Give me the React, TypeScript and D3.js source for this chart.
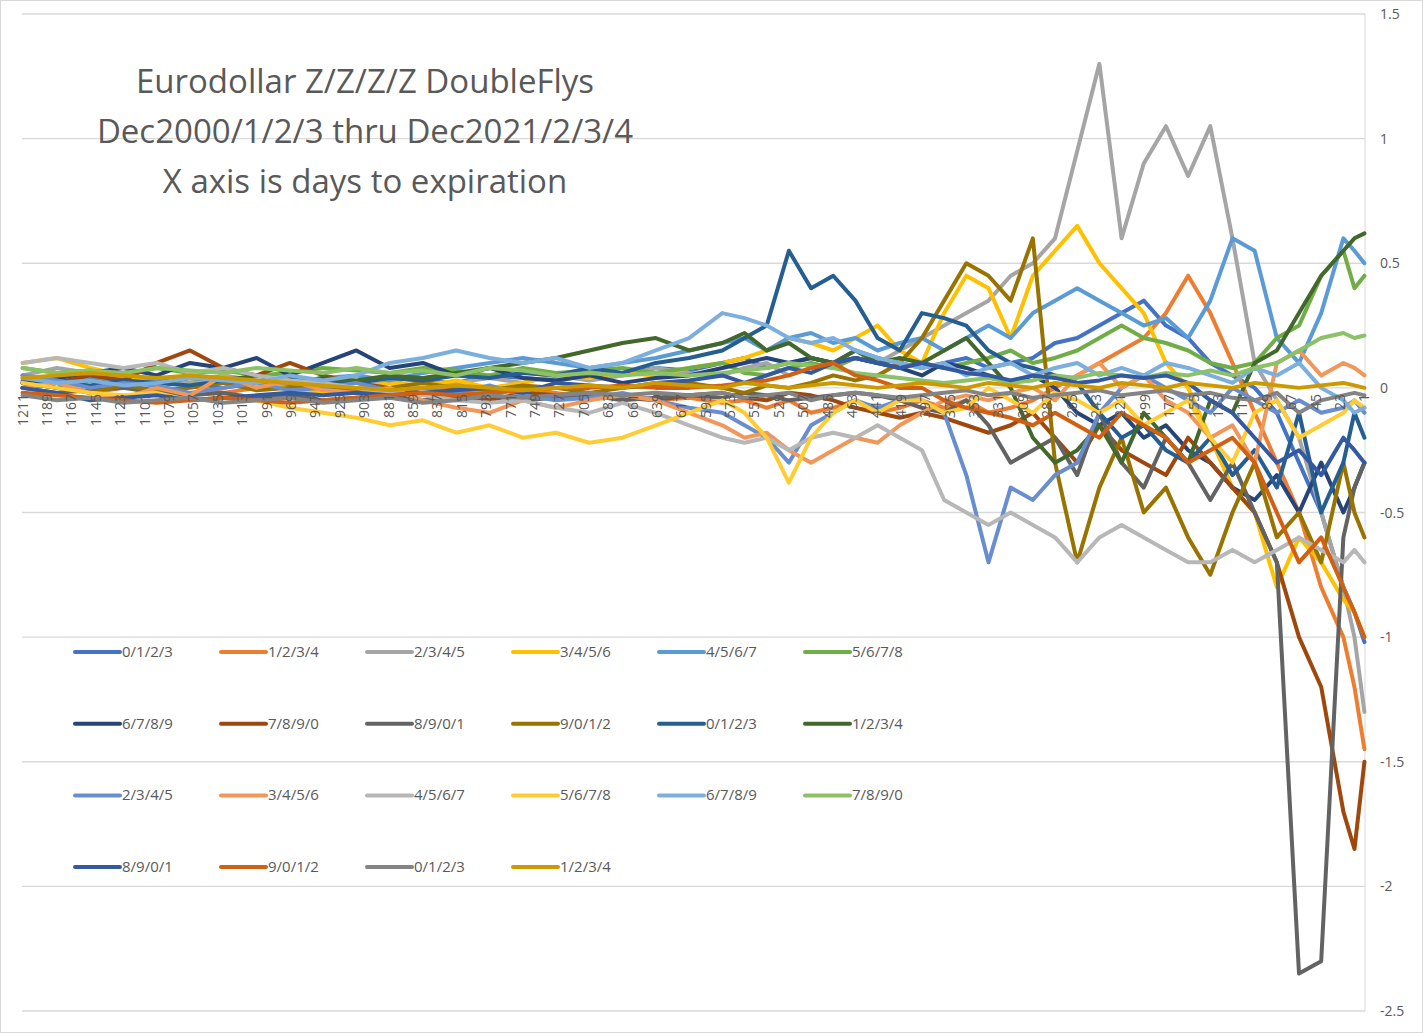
import React, { useEffect, useRef } from 'react';
import * as d3 from 'd3';

const DAYS = [
  1211, 1180, 1150, 1120, 1090, 1060, 1030, 1000, 970, 940,
  910, 880, 850, 820, 790, 760, 730, 700, 670, 640,
  610, 580, 560, 540, 520, 500, 480, 460, 440, 420,
  400, 380, 360, 340, 320, 300, 280, 260, 240, 220,
  200, 180, 160, 140, 120, 100, 80, 60, 40, 20,
  10, 1,
];

const NAMES = [
  '0/1/2/3', '1/2/3/4', '2/3/4/5', '3/4/5/6', '4/5/6/7', '5/6/7/8',
  '6/7/8/9', '7/8/9/0', '8/9/0/1', '9/0/1/2', '0/1/2/3', '1/2/3/4',
  '2/3/4/5', '3/4/5/6', '4/5/6/7', '5/6/7/8', '6/7/8/9', '7/8/9/0',
  '8/9/0/1', '9/0/1/2', '0/1/2/3', '1/2/3/4',
];

const COLORS = [
  '#4472C4', '#ED7D31', '#A5A5A5', '#FFC000', '#5B9BD5', '#70AD47',
  '#264478', '#9E480E', '#636363', '#997300', '#255E91', '#43682B',
  '#698ED0', '#F1975A', '#B7B7B7', '#FFCD33', '#7CAFDD', '#8CC168',
  '#335AA1', '#D26012', '#848484', '#CC9A00',
];

const s01 = [.03,.02,.04,.01,.03,.02,0,.02,.01,.03, .02,.04,.03,.02,.05,.04,.03,.05,.06,.08, .07,.1,.12,.08,.1,.12,.1,.15,.12,.1, .08,.1,.12,.08,.1,.12,.18,.2,.25,.3, .35,.25,.2,.1,.05,0,-.1,-.3,-.5,-.8, -.9,-1.02];
const s02 = [0,.02,-.02,0,.03,.01,-.02,0,.02,0, -.02,0,.02,-.01,-.03,0,-.02,-.04,-.03,-.05, -.04,-.06,-.05,-.08,-.05,-.1,-.08,-.05,-.1,-.08, -.05,-.08,-.05,-.1,-.08,-.05,0,.05,.1,.15, .2,.3,.45,.3,.1,-.1,-.3,-.5,-.8,-1.0, -1.2,-1.45];
const s03 = [.05,.08,.06,.04,.03,.02,.05,.03,.02,.04, .02,.03,0,.02,.04,.02,.05,.03,.05,.08, .06,.05,.08,.1,.05,.08,.1,.12,.1,.15, .2,.25,.3,.35,.45,.5,.6,.95,1.3,.6, .9,1.05,.85,1.05,.6,.1,-.05,-.2,-.5,-.8, -1.0,-1.3];
const s04 = [.1,.12,.08,.05,.03,.04,.02,.01,0,-.02, 0,.02,.01,.03,0,.02,.05,.04,.06,.05, .08,.1,.12,.15,.2,.18,.15,.2,.25,.15, .1,.3,.45,.4,.2,.45,.55,.65,.5,.4, .3,.1,0,-.2,-.4,-.5,-.8,-.6,-.7,-.85, -.9,-1.0];
const s05 = [.05,.03,.04,.02,.03,.05,.04,.03,.02,.04, .05,.03,.06,.08,.1,.12,.1,.08,.1,.12, .15,.18,.2,.15,.2,.22,.18,.2,.15,.18, .2,.15,.2,.25,.2,.3,.35,.4,.35,.3, .25,.28,.2,.35,.6,.55,.2,.1,.3,.6, .55,.5];
const s06 = [.08,.06,.07,.05,.08,.06,.07,.05,.06,.08, .07,.06,.08,.07,.05,.08,.06,.07,.08,.06, .08,.1,.06,.05,.08,.1,.08,.12,.1,.08, .1,.08,.1,.12,.15,.1,.12,.15,.2,.25, .2,.18,.15,.1,.08,.1,.2,.25,.45,.55, .4,.45];
const s07 = [.02,.04,.06,.08,.05,.1,.08,.12,.05,.1, .15,.08,.1,.05,.08,.04,.03,.05,.02,.04, .05,.08,.1,.12,.1,.12,.1,.12,.1,.08, .05,.1,.08,.05,.02,.05,0,-.1,-.15,-.1, -.2,-.15,-.25,-.3,-.4,-.45,-.35,-.5,-.3,-.5, -.4,-.3];
const s08 = [0,.02,.05,.03,.1,.15,.08,.05,.1,.05, .02,0,-.02,-.03,-.05,-.02,-.03,-.02,-.04,-.05, -.03,-.02,-.04,-.05,-.02,-.03,-.05,-.08,-.1,-.12, -.1,-.12,-.15,-.18,-.15,-.1,-.2,-.3,-.15,-.25, -.3,-.35,-.2,-.3,-.4,-.5,-.7,-1.0,-1.2,-1.7, -1.85,-1.5];
const s09 = [0,-.02,-.01,0,-.02,-.03,-.02,-.04,-.03,-.05, -.04,-.03,-.05,-.04,-.03,-.05,-.04,-.03,-.05,-.04, -.03,-.04,-.02,-.03,-.05,-.04,-.03,-.02,-.03,-.05, -.08,-.1,-.05,-.15,-.3,-.25,-.2,-.35,-.1,-.3, -.4,-.2,-.3,-.45,-.3,-.5,-.7,-2.35,-2.3,-.6, -.4,-.3];
const s10 = [.02,0,-.02,.01,-.01,0,.02,-.01,0,.01, -.01,0,.02,0,-.01,.01,0,-.02,0,.01, .02,0,-.02,.01,0,.02,.05,.03,.05,.1, .2,.35,.5,.45,.35,.6,-.3,-.7,-.4,-.2, -.5,-.4,-.6,-.75,-.5,-.3,-.6,-.5,-.7,-.3, -.5,-.6];
const s11 = [0,.02,.01,.03,.02,.01,.03,.02,.04,.03, .02,.04,.03,.05,.04,.06,.05,.08,.06,.1, .12,.15,.2,.25,.55,.4,.45,.35,.2,.15, .3,.28,.25,.15,.1,.08,.05,.02,-.1,-.2, -.15,-.25,-.3,-.2,-.35,-.25,-.4,-.1,-.5,-.3, -.1,-.2];
const s12 = [.02,0,.03,.01,.02,.04,.03,.05,.02,.04, .03,.05,.04,.06,.08,.1,.12,.15,.18,.2, .15,.18,.22,.15,.18,.12,.1,.15,.1,.12, .1,.15,.2,.1,0,-.2,-.3,-.25,-.15,-.3, -.1,-.2,-.3,-.05,-.1,.1,.15,.3,.45,.55, .6,.62];
const s13 = [.05,.03,0,.02,.01,-.02,0,.02,-.01,0, .02,-.01,0,-.02,.01,-.03,-.05,-.04,-.02,-.05, -.08,-.1,-.15,-.2,-.3,-.15,-.1,-.05,-.08,-.05, -.05,-.1,-.35,-.7,-.4,-.45,-.35,-.3,-.1,0, .05,0,-.05,-.1,0,-.05,-.1,-.05,-.1,-.08, -.05,-.1];
const s14 = [0,.02,-.02,-.04,0,-.03,.05,0,.03,-.01, -.02,0,-.05,-.08,-.1,-.05,-.08,-.05,-.03,-.05, -.1,-.15,-.2,-.18,-.25,-.3,-.25,-.2,-.22,-.15, -.1,-.05,-.03,-.05,-.02,0,-.05,.05,.1,0, .05,-.05,-.1,-.2,-.15,-.3,.1,.15,.05,.1, .08,.05];
const s15 = [.1,.12,.1,.08,.1,.06,.08,.05,.03,.02, 0,-.02,-.03,-.05,-.06,-.05,-.08,-.1,-.06,-.1, -.15,-.2,-.22,-.2,-.25,-.2,-.18,-.2,-.15,-.2, -.25,-.45,-.5,-.55,-.5,-.55,-.6,-.7,-.6,-.55, -.6,-.65,-.7,-.7,-.65,-.7,-.65,-.6,-.65,-.7, -.65,-.7];
const s16 = [.02,0,-.02,-.03,-.02,-.05,-.04,-.05,-.08,-.1, -.12,-.15,-.13,-.18,-.15,-.2,-.18,-.22,-.2,-.15, -.1,-.05,-.1,-.2,-.38,-.2,-.1,-.05,-.1,-.05, -.05,-.1,-.08,0,-.05,-.1,-.02,-.05,-.1,-.05, -.15,-.1,-.05,-.2,-.3,-.1,-.05,-.2,-.15,-.1, -.05,-.08];
const s17 = [.04,.02,.03,.01,.02,.04,.03,.02,.05,.03, .05,.1,.12,.15,.12,.1,.12,.08,.1,.15, .2,.3,.28,.25,.2,.18,.2,.15,.12,.1, .08,.1,.05,.08,.1,.05,.08,.1,.05,.08, .05,.1,.08,.05,.02,.08,.05,.1,0,-.05, -.1,-.08];
const s18 = [.08,.06,.07,.06,.08,.07,.06,.08,.07,.06, .08,.06,.07,.05,.08,.07,.05,.06,.05,.06, .05,.06,.07,.08,.1,.09,.08,.06,.05,.04, .03,.02,.03,.04,.02,.03,.05,.04,.06,.05, .04,.06,.05,.07,.05,.08,.1,.15,.2,.22, .2,.21];
const s19 = [0,-.02,-.05,-.04,-.03,-.05,-.04,-.03,-.02,-.03, -.02,-.03,-.02,-.01,0,-.02,.02,.01,0,.02, .03,.05,.02,.05,.08,.06,.1,.12,.1,.08, .1,.08,.06,.05,.03,.05,.04,.02,.03,.05, .04,.05,.02,-.05,-.1,-.2,-.3,-.25,-.35,-.2, -.25,-.3];
const s20 = [-.02,-.03,-.04,-.05,-.06,-.05,-.04,-.05,-.06,-.05, -.04,-.03,-.02,-.03,-.02,-.01,0,0,.01,0, 0,.01,.02,.03,.05,.08,.1,.05,.03,0, 0,-.05,-.08,-.1,-.12,-.15,-.1,-.15,-.2,-.1, -.15,-.2,-.3,-.25,-.2,-.3,-.5,-.7,-.6,-.8, -.9,-1.0];
const s21 = [-.03,-.05,-.04,-.06,-.05,-.04,-.06,-.05,-.04,-.06, -.05,-.04,-.06,-.05,-.03,-.04,-.03,-.02,-.03,-.02, -.03,-.02,-.04,-.03,-.02,-.05,-.03,-.02,-.03,-.04, -.03,-.02,-.01,-.03,-.02,-.04,-.03,-.02,-.01,-.03, -.02,-.01,-.03,-.02,-.04,-.05,-.02,-.1,-.05,-.03, -.02,-.03];
const s22 = [.04,.05,.06,.05,.04,.05,.04,.03,.02,.01, 0,-.01,0,.01,0,-.01,0,.01,0,.02, .01,0,.02,.01,0,.01,.02,.01,0,.01, .02,.01,0,.02,.01,0,.02,.01,0,.02, .01,0,.02,.01,0,.02,.01,0,.01,.02, .01,0];

const SERIES = [s01, s02, s03, s04, s05, s06, s07, s08, s09, s10, s11, s12, s13, s14, s15, s16, s17, s18, s19, s20, s21, s22];
const Y_TICKS = [1.5, 1, 0.5, 0, -0.5, -1, -1.5, -2, -2.5];
const TITLE = ['Eurodollar Z/Z/Z/Z DoubleFlys', 'Dec2000/1/2/3 thru Dec2021/2/3/4', 'X axis is days to expiration'];

const W = 1423, H = 1033;
const FONT = "'Open Sans', 'Noto Sans', sans-serif";

const App: React.FC = () => {
  const ref = useRef<SVGSVGElement>(null);

  useEffect(() => {
    if (!ref.current) return;
    const svg = d3.select(ref.current);
    svg.selectAll('*').remove();

    const x = d3.scaleLinear().domain([1211.5, 0.5]).range([22, 1365]);
    const y = d3.scaleLinear().domain([-2.5, 1.5]).range([1011, 14]);

    svg.append('rect').attr('x', 0.5).attr('y', 0.5).attr('width', W - 1).attr('height', H - 1)
      .attr('fill', '#fff').attr('stroke', '#d9d9d9');

    // gridlines + right axis
    svg.append('g').selectAll('line').data(Y_TICKS).enter().append('line')
      .attr('x1', 22).attr('x2', 1365).attr('y1', d => y(d)).attr('y2', d => y(d))
      .attr('stroke', '#d9d9d9').attr('stroke-width', 1.3);
    svg.append('line').attr('x1', 1365).attr('x2', 1365).attr('y1', y(1.5)).attr('y2', y(-2.5)).attr('stroke', '#d9d9d9');
    svg.append('g').selectAll('text').data(Y_TICKS).enter().append('text')
      .attr('x', 1380).attr('y', d => y(d) + 5).text(d => String(d))
      .attr('font-family', FONT).attr('font-size', 14).attr('fill', '#595959');

    // title
    svg.append('g').selectAll('text').data(TITLE).enter().append('text')
      .attr('x', 365).attr('y', (_, i) => 93 + i * 50).attr('text-anchor', 'middle')
      .attr('font-family', FONT).attr('font-size', 33).attr('fill', '#595959').text(d => d);

    const line = d3.line<number>().x((_, i) => x(DAYS[i])).y(d => y(d)).curve(d3.curveLinear);
    svg.append('g').selectAll('path').data(SERIES).enter().append('path')
      .attr('d', d => line(d)).attr('fill', 'none')
      .attr('stroke', (_, i) => COLORS[i]).attr('stroke-width', 4)
      .attr('stroke-linejoin', 'round').attr('stroke-linecap', 'round');

    // category labels along the zero line
    const xTicks = d3.range(1211, 0, -22);
    svg.append('g').selectAll('text').data(xTicks).enter().append('text')
      .attr('transform', d => `translate(${x(d) + 5},${y(0) + 6}) rotate(-90)`)
      .attr('text-anchor', 'end').text(d => String(d))
      .attr('font-family', FONT).attr('font-size', 14).attr('fill', '#595959');

    // legend
    const lg = svg.append('g').selectAll('g').data(NAMES).enter().append('g')
      .attr('transform', (_, i) => `translate(${75 + (i % 6) * 146},${652 + Math.floor(i / 6) * 71.7})`);
    lg.append('line').attr('x1', 0).attr('x2', 45).attr('stroke', (_, i) => COLORS[i])
      .attr('stroke-width', 4).attr('stroke-linecap', 'round');
    lg.append('text').attr('x', 47).attr('y', 5).text(d => d)
      .attr('font-family', FONT).attr('font-size', 15).attr('fill', '#595959');
  }, []);

  return (
    <div style={{ position: 'absolute', left: 0, top: 0 }}>
      <svg ref={ref} width={W} height={H} />
    </div>
  );
};

export default App;
